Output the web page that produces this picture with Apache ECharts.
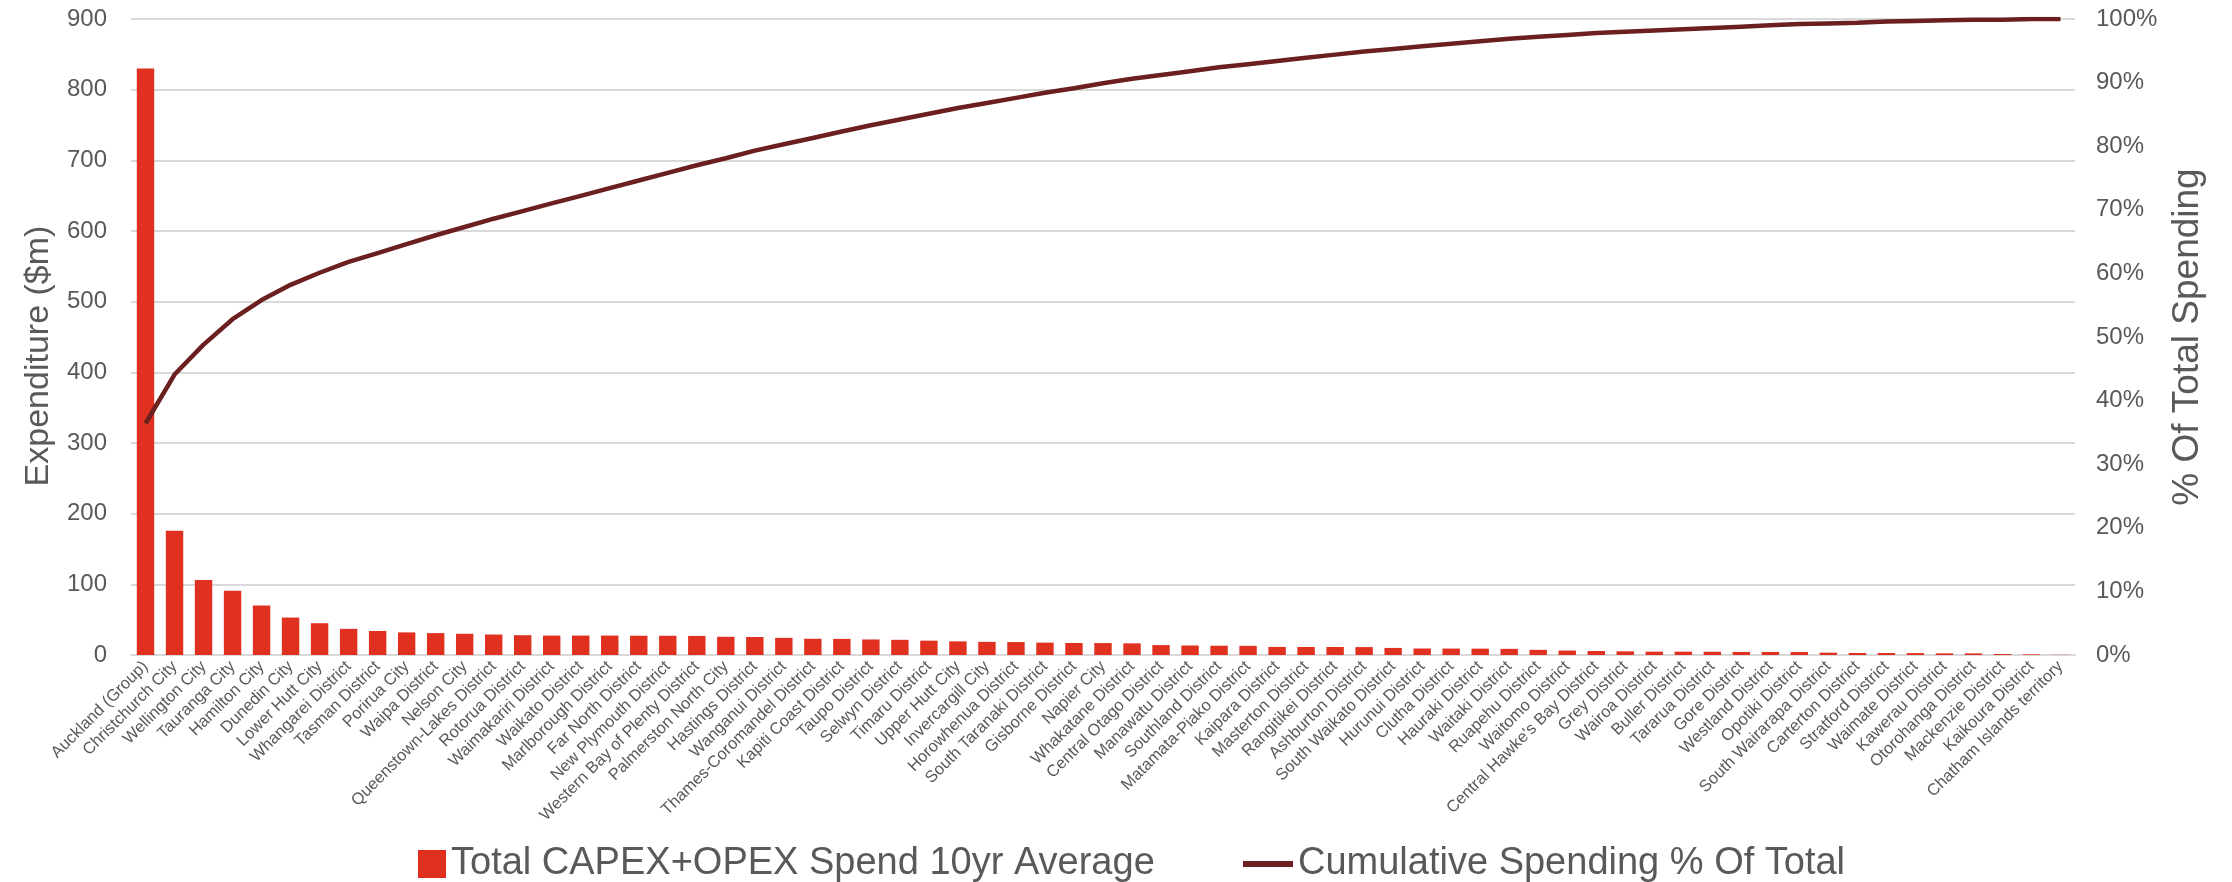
<!DOCTYPE html>
<html>
<head>
<meta charset="utf-8">
<title>Council spending pareto</title>
<script src="https://cdn.jsdelivr.net/npm/echarts/dist/echarts.min.js"></script>
<style>
  html, body {
    margin: 0;
    padding: 0;
    background: #fff;
  }
  #main {
    width: 2232px;
    height: 882px;
  }
</style>
</head>
<body>
<div id="main"></div>
<script>
// councils, sorted by spend (largest first)
const councils = [
  'Auckland (Group)', 'Christchurch City', 'Wellington City', 'Tauranga City', 'Hamilton City',
  'Dunedin City', 'Lower Hutt City', 'Whangarei District', 'Tasman District', 'Porirua City',
  'Waipa District', 'Nelson City', 'Queenstown-Lakes District', 'Rotorua District', 'Waimakariri District',
  'Waikato District', 'Marlborough District', 'Far North District', 'New Plymouth District', 'Western Bay of Plenty District',
  'Palmerston North City', 'Hastings District', 'Wanganui District', 'Thames-Coromandel District', 'Kapiti Coast District',
  'Taupo District', 'Selwyn District', 'Timaru District', 'Upper Hutt City', 'Invercargill City',
  'Horowhenua District', 'South Taranaki District', 'Gisborne District', 'Napier City', 'Whakatane District',
  'Central Otago District', 'Manawatu District', 'Southland District', 'Matamata-Piako District', 'Kaipara District',
  'Masterton District', 'Rangitikei District', 'Ashburton District', 'South Waikato District', 'Hurunui District',
  'Clutha District', 'Hauraki District', 'Waitaki District', 'Ruapehu District', 'Waitomo District',
  'Central Hawke\'s Bay District', 'Grey District', 'Wairoa District', 'Buller District', 'Tararua District',
  'Gore District', 'Westland District', 'Opotiki District', 'South Wairarapa District', 'Carterton District',
  'Stratford District', 'Waimate District', 'Kawerau District', 'Otorohanga District', 'Mackenzie District',
  'Kaikoura District', 'Chatham Islands territory'
];

// Total CAPEX+OPEX spend, 10yr average ($m)
const spend = [
  830, 176, 106, 91, 70,
  53, 45, 37, 34, 32,
  31, 30, 29, 28, 27.5,
  27.5, 27.5, 27.3, 27.2, 27,
  25.8, 25.5, 24.3, 23, 22.8,
  22, 21.5, 20.3, 19.3, 18.6,
  18.3, 17.5, 17, 16.9, 16.5,
  14, 13.4, 13.1, 13, 11.4,
  11.3, 11.3, 11.2, 10, 9.2,
  9.1, 9, 8.7, 7.3, 6.3,
  5.7, 5.2, 4.7, 4.7, 4.6,
  4.3, 4.3, 4.2, 3.3, 2.8,
  2.8, 2.7, 2.4, 2.3, 1.4,
  1.0, 0.3
];

// cumulative share of total spending (%)
const cumulativePct = [
  36.4, 44.1, 48.8, 52.8, 55.8,
  58.2, 60.1, 61.8, 63.2, 64.6,
  66.0, 67.3, 68.6, 69.8, 71.0,
  72.2, 73.4, 74.6, 75.8, 77.0,
  78.1, 79.3, 80.3, 81.3, 82.3,
  83.3, 84.2, 85.1, 86.0, 86.8,
  87.6, 88.4, 89.1, 89.9, 90.6,
  91.2, 91.8, 92.4, 92.9, 93.4,
  93.9, 94.4, 94.9, 95.3, 95.7,
  96.1, 96.5, 96.9, 97.2, 97.5,
  97.8, 98.0, 98.2, 98.4, 98.6,
  98.8, 99.0, 99.2, 99.3, 99.4,
  99.6, 99.7, 99.8, 99.9, 99.9,
  100, 100
];

const barName = 'Total CAPEX+OPEX Spend 10yr Average';
const lineName = 'Cumulative Spending % Of Total';

const textColor = '#595959';
const gridColor = '#d9d9d9';
const barColor = '#e03120';
const lineColor = '#6b1f1f';
const font = '"Liberation Sans", Arial, sans-serif';

let myChart = echarts.init(document.getElementById('main'));

// two legends so each marker can have its own size
const legendText = {
  fontSize: 38,
  color: textColor,
  fontFamily: font
};

let option = {
  animation: false,
  textStyle: {
    fontFamily: font
  },
  grid: {
    left: 131,
    right: 157,
    top: 19,
    bottom: 227
  },
  legend: [
    {
      left: 413,
      top: 840,
      itemWidth: 28,
      itemHeight: 28,
      textStyle: legendText,
      data: [{ name: barName, icon: 'rect' }]
    },
    {
      left: 1238,
      top: 840,
      itemWidth: 50,
      itemHeight: 28,
      textStyle: legendText,
      data: [{ name: lineName, icon: 'path://M0,0 L50,0 L50,6 L0,6 Z' }]
    }
  ],
  xAxis: {
    type: 'category',
    data: councils,
    axisLine: {
      lineStyle: {
        color: gridColor,
        width: 2
      }
    },
    axisTick: {
      show: false
    },
    axisLabel: {
      interval: 0,
      rotate: 45,
      fontSize: 16.5,
      color: textColor,
      margin: 9
    }
  },
  yAxis: [
    {
      type: 'value',
      min: 0,
      max: 900,
      interval: 100,
      name: 'Expenditure ($m)',
      nameLocation: 'middle',
      nameGap: 73,
      nameTextStyle: {
        fontSize: 34,
        color: textColor,
        padding: [0, 38, 0, 0]
      },
      axisLine: { show: false },
      axisTick: { show: false },
      axisLabel: {
        fontSize: 24,
        color: textColor,
        margin: 24
      },
      splitLine: {
        lineStyle: {
          color: gridColor,
          width: 2
        }
      }
    },
    {
      type: 'value',
      min: 0,
      max: 100,
      interval: 10,
      name: '% Of Total Spending',
      nameLocation: 'middle',
      nameGap: 94,
      nameTextStyle: {
        fontSize: 37,
        color: textColor
      },
      axisLine: { show: false },
      axisTick: { show: false },
      axisLabel: {
        fontSize: 24,
        color: textColor,
        margin: 21,
        formatter: '{value}%'
      },
      splitLine: { show: false }
    }
  ],
  series: [
    {
      name: barName,
      type: 'bar',
      data: spend,
      barCategoryGap: '40%',
      itemStyle: {
        color: barColor
      }
    },
    {
      name: lineName,
      type: 'line',
      yAxisIndex: 1,
      data: cumulativePct,
      symbol: 'none',
      itemStyle: {
        color: lineColor
      },
      lineStyle: {
        color: lineColor,
        width: 4.5
      }
    }
  ]
};

myChart.setOption(option);
</script>
</body>
</html>
